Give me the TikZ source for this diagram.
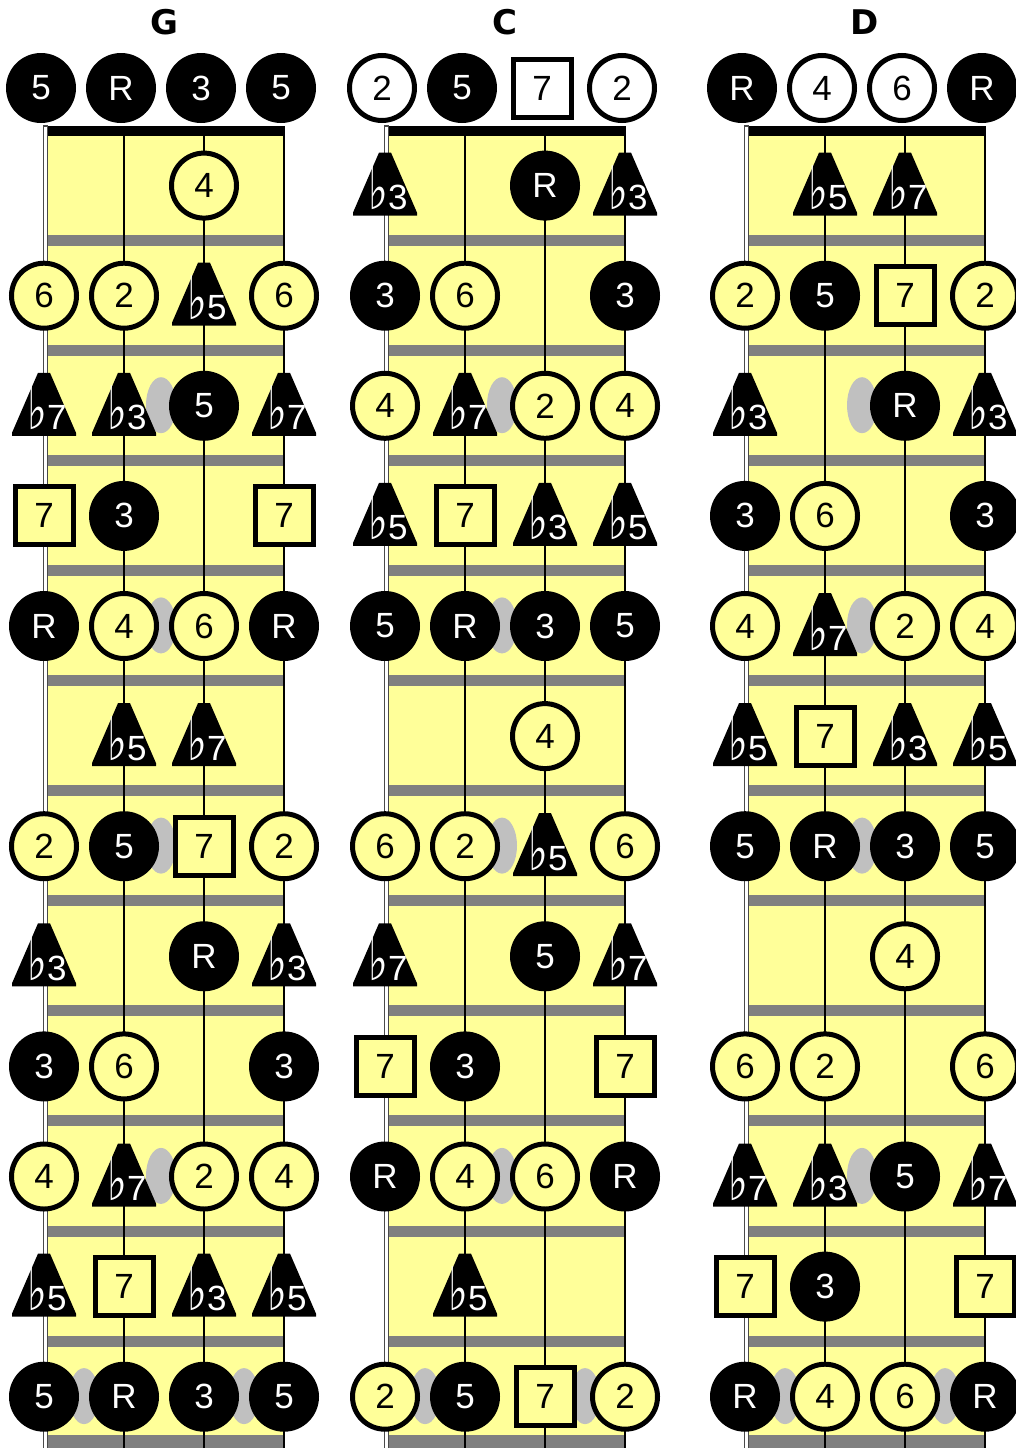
\documentclass[tikz,border=0pt]{standalone}
\usepackage{fontspec}
\setmainfont{Liberation Sans}
\newfontfamily\symfont[FakeStretch=0.7]{DejaVu Sans}
\newfontfamily\titlefont{DejaVu Sans}
\definecolor{board}{HTML}{FFFF99}
\definecolor{fretgray}{HTML}{808080}
\definecolor{inlay}{HTML}{C0C0C0}
\definecolor{edgegray}{HTML}{4A4A4A}
\newcommand\flatsign{{\symfont\fontsize{60}{60}\selectfont ♭}}
\tikzset{
  notefont/.style={font=\fontsize{35}{40}\selectfont, inner sep=0pt, outer sep=0pt},
  chordtone/.style={circle, fill=black, text=white, minimum size=70pt, notefont},
  scaletone/.style={circle, draw=black, line width=5pt, fill=#1, minimum size=65pt, notefont},
  seventh/.style={rectangle, draw=black, line width=5pt, fill=#1, minimum size=58pt, notefont},
  flatshape/.style={fill=black},
  flatlabel/.style={text=white, notefont},
  boardtitle/.style={font=\titlefont\bfseries\fontsize{34}{40}\selectfont, inner sep=0pt},
  stringline/.style={line width=2pt, black},
}
\newcommand\DrawBoard[3]{% x0, title, id
  \fill[board] (#1+4,136) rectangle (#1+240,1448);
  \foreach \n in {1,...,11}
    \fill[fretgray] (#1+4,130+110.1*\n-5.5) rectangle (#1+240,130+110.1*\n+5.5);
  \fill[fretgray] (#1+4,1435) rectangle (#1+240,1448);
  \foreach \k in {1,2,3}
    \draw[stringline] (#1+80*\k,126) -- (#1+80*\k,1448);
  \fill[edgegray] (#1-1.5,125) rectangle (#1+4,1448);
  \fill[white] (#1,126.5) rectangle (#1+2.5,1448);
  \fill[black] (#1+4,126) rectangle (#1+240.5,136);
  \foreach \n in {3,5,7,10}
    \fill[inlay] (#1+117,74.9+110.1*\n) ellipse [x radius=15, y radius=28];
  \fill[inlay] (#1+40,1396.1) ellipse [x radius=15, y radius=28];
  \fill[inlay] (#1+200,1396.1) ellipse [x radius=15, y radius=28];
  \node[boardtitle] (title-#3) at (#1+120,22) {#2};
}
\newcommand\DrawNotes[3]{% x0, id, list
  \foreach \n/\s/\k/\l in {#3}{
    \pgfmathsetmacro\xx{#1+80*\s-(\n==0)*3}
    \pgfmathsetmacro\yy{\n==0 ? 88 : 75.5+110.1*\n}
    \ifnum\n=0 \def\fc{white}\else\def\fc{board}\fi
    \if\k c\node[chordtone] (#2-\n-\s) at (\xx,\yy) {\l};\fi
    \if\k s\node[scaletone=\fc] (#2-\n-\s) at (\xx,\yy) {\l};\fi
    \if\k q\node[seventh=\fc] (#2-\n-\s) at (\xx,\yy) {\l};\fi
    \if\k f\fill[flatshape] (\xx-6,\yy-33) -- (\xx+6,\yy-33) -- (\xx+32,\yy+27) -- (\xx+32,\yy+30) -- (\xx-32,\yy+30) -- (\xx-32,\yy+27) -- cycle;
      \node[flatlabel, anchor=base] (#2-\n-\s) at (\xx+3,\yy+24) {\flatsign\l};\fi
  }
}
\begin{document}
\begin{tikzpicture}[x=1pt,y=-1pt]
\useasboundingbox (0,0) rectangle (1016,1448);
\clip (0,0) rectangle (1016,1448);
\fill[white] (0,0) rectangle (1016,1448);
\DrawBoard{44}{G}{G}
\DrawBoard{385}{C}{C}
\DrawBoard{745}{D}{D}
\DrawNotes{44}{G}{0/0/c/5, 0/1/c/R, 0/2/c/3, 0/3/c/5,
1/2/s/4,
2/0/s/6, 2/1/s/2, 2/2/f/5, 2/3/s/6,
3/0/f/7, 3/1/f/3, 3/2/c/5, 3/3/f/7,
4/0/q/7, 4/1/c/3, 4/3/q/7,
5/0/c/R, 5/1/s/4, 5/2/s/6, 5/3/c/R,
6/1/f/5, 6/2/f/7,
7/0/s/2, 7/1/c/5, 7/2/q/7, 7/3/s/2,
8/0/f/3, 8/2/c/R, 8/3/f/3,
9/0/c/3, 9/1/s/6, 9/3/c/3,
10/0/s/4, 10/1/f/7, 10/2/s/2, 10/3/s/4,
11/0/f/5, 11/1/q/7, 11/2/f/3, 11/3/f/5,
12/0/c/5, 12/1/c/R, 12/2/c/3, 12/3/c/5}
\DrawNotes{385}{C}{0/0/s/2, 0/1/c/5, 0/2/q/7, 0/3/s/2,
1/0/f/3, 1/2/c/R, 1/3/f/3,
2/0/c/3, 2/1/s/6, 2/3/c/3,
3/0/s/4, 3/1/f/7, 3/2/s/2, 3/3/s/4,
4/0/f/5, 4/1/q/7, 4/2/f/3, 4/3/f/5,
5/0/c/5, 5/1/c/R, 5/2/c/3, 5/3/c/5,
6/2/s/4,
7/0/s/6, 7/1/s/2, 7/2/f/5, 7/3/s/6,
8/0/f/7, 8/2/c/5, 8/3/f/7,
9/0/q/7, 9/1/c/3, 9/3/q/7,
10/0/c/R, 10/1/s/4, 10/2/s/6, 10/3/c/R,
11/1/f/5,
12/0/s/2, 12/1/c/5, 12/2/q/7, 12/3/s/2}
\DrawNotes{745}{D}{0/0/c/R, 0/1/s/4, 0/2/s/6, 0/3/c/R,
1/1/f/5, 1/2/f/7,
2/0/s/2, 2/1/c/5, 2/2/q/7, 2/3/s/2,
3/0/f/3, 3/2/c/R, 3/3/f/3,
4/0/c/3, 4/1/s/6, 4/3/c/3,
5/0/s/4, 5/1/f/7, 5/2/s/2, 5/3/s/4,
6/0/f/5, 6/1/q/7, 6/2/f/3, 6/3/f/5,
7/0/c/5, 7/1/c/R, 7/2/c/3, 7/3/c/5,
8/2/s/4,
9/0/s/6, 9/1/s/2, 9/3/s/6,
10/0/f/7, 10/1/f/3, 10/2/c/5, 10/3/f/7,
11/0/q/7, 11/1/c/3, 11/3/q/7,
12/0/c/R, 12/1/s/4, 12/2/s/6, 12/3/c/R}
\end{tikzpicture}
\end{document}
